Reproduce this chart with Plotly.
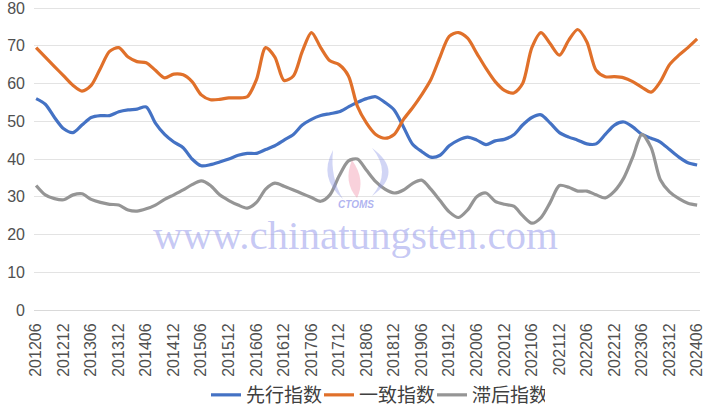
import pandas as pd
import plotly.graph_objects as go

# Months (every 2 months from 2012-06 to 2024-06)
months = pd.date_range("2012-06-01", "2024-06-01", freq="2MS")

# 先行指数 (leading index)
leading = [56, 54.5, 51, 48, 47, 49, 51, 51.5, 51.5, 52.5, 53, 53.2, 53.8,
           49.5, 46.5, 44.5, 43, 40, 38.2, 38.5, 39.2, 40, 41, 41.5, 41.5,
           42.5, 43.5, 45, 46.5, 49, 50.5, 51.5, 52, 52.5, 53.8, 55, 56, 56.5,
           55, 53, 48.5, 44, 42, 40.5, 41, 43.5, 45, 45.8, 45, 43.8, 44.8, 45.2,
           46.4, 49, 51, 51.7, 49.5, 47, 45.8, 45, 44, 44, 46.5, 49, 49.8, 48.5,
           46.5, 45.5, 44.5, 42.5, 40.5, 39, 38.4]

# 一致指数 (coincident index)
coincident = [69.5, 67, 64.5, 62, 59.5, 58, 59.5, 64, 68.5, 69.5, 67, 65.8, 65.5,
              63.5, 61.5, 62.5, 62.3, 60.5, 57, 55.7, 55.8, 56.2, 56.2, 56.5, 61,
              69.5, 67, 60.8, 62, 68.5, 73.5, 69.5, 66, 65, 62, 54, 49.5, 46.5,
              45.5, 46.5, 50.5, 53.5, 57, 61, 67, 72.5, 73.5, 72, 68, 64, 60.5,
              58.2, 57.5, 60, 69.5, 73.5, 70.5, 67.5, 71.5, 74.3, 71, 63.5, 61.8,
              61.8, 61.5, 60.5, 59, 57.7, 60.5, 65, 67.5, 69.5, 71.8]

# 滞后指数 (lagging index)
lagging = [33, 30.5, 29.5, 29.2, 30.5, 30.8, 29.3, 28.5, 28, 27.8, 26.5, 26.2, 26.8,
           27.8, 29.3, 30.5, 31.8, 33.2, 34.2, 33, 30.5, 29, 27.8, 27, 28.5, 32,
           33.6, 32.8, 31.8, 30.8, 29.8, 28.8, 30.5, 35.5, 39.5, 40, 37, 34, 32,
           31, 31.8, 33.5, 34.4, 32, 29, 26, 24.5, 26.5, 30, 31, 28.8, 28, 27.5,
           25, 23, 24.5, 28.5, 33, 32.5, 31.5, 31.5, 30.5, 29.7, 31.5, 35, 40.5,
           46.5, 43, 34.5, 31.3, 29.5, 28.3, 27.8]

series_names = ["先行指数", "一致指数", "滞后指数"]
series_colors = ["#4472C4", "#E0702A", "#959595"]

# Tick positions every 6 months
tick_dates = pd.date_range("2012-06-01", "2024-06-01", freq="6MS")
tick_labels = [d.strftime("%Y%m") for d in tick_dates]
y_ticks = [0, 10, 20, 30, 40, 50, 60, 70, 80]

fig = go.Figure()
for name, vals, col in zip(series_names, [leading, coincident, lagging], series_colors):
    fig.add_trace(go.Scatter(x=months, y=vals, name=name, mode="lines",
                             line=dict(color=col, width=3.2, shape="spline", smoothing=0.8)))

L, R, T, B = 34, 10, 4, 101
W, H = 710, 411
pw, ph = W - L - R, H - T - B
ytop = ph / 3.775  # keeps 80 at y=8 and 0 at y=310

def px(x):
    return (x - L) / pw

def py(y):
    return (H - B - y) / ph

def blob(pts):
    # closed smooth path through quadratic segments (pixel coords -> paper)
    s = "M {} {}".format(px(pts[0][0]), py(pts[0][1]))
    for i in range(1, len(pts) - 1, 2):
        s += " Q {} {} {} {}".format(px(pts[i][0]), py(pts[i][1]),
                                     px(pts[i + 1][0]), py(pts[i + 1][1]))
    return s + " Z"

shapes = []
logo = [
    (blob([(333, 150), (318, 178), (343, 199), (330, 178), (333, 150)]),
     "rgba(140,150,230,0.40)"),
    (blob([(352, 160), (343, 182), (357, 198), (366, 180), (352, 160)]),
     "rgba(240,140,165,0.40)"),
    (blob([(372, 148), (405, 172), (372, 196), (392, 172), (372, 148)]),
     "rgba(140,150,230,0.40)"),
]
for p, c in logo:
    shapes.append(dict(type="path", xref="paper", yref="paper", path=p,
                       fillcolor=c, line=dict(width=0), layer="above"))

annotations = [
    dict(text="www.chinatungsten.com", xref="paper", yref="paper",
         x=px(355), y=py(235), xanchor="center", yanchor="middle", showarrow=False,
         font=dict(family="Liberation Serif, DejaVu Serif, serif", size=41,
                   color="rgba(150,155,235,0.55)")),
    dict(text="<b><i>CTOMS</i></b>", xref="paper", yref="paper",
         x=px(356), y=py(204), xanchor="center", yanchor="middle", showarrow=False,
         font=dict(family="Liberation Sans, Arial, sans-serif", size=10,
                   color="rgba(150,155,235,0.75)")),
]

fig.update_layout(
    width=W, height=H,
    margin=dict(l=L, r=R, t=T, b=B, autoexpand=False),
    paper_bgcolor="white", plot_bgcolor="white",
    font=dict(family="Liberation Sans, Arial, sans-serif", color="#505050"),
    showlegend=True,
    legend=dict(orientation="h", x=px(206), xanchor="left", y=py(395), yanchor="middle",
                font=dict(family="Noto Sans CJK SC", size=19, color="#404040"),
                itemwidth=30, entrywidth=68, entrywidthmode="pixels",
                tracegroupgap=0, bgcolor="rgba(0,0,0,0)"),
    shapes=shapes,
    annotations=annotations,
)
fig.update_xaxes(type="date", range=["2012-05-18", "2024-06-20"],
                 tickvals=tick_dates, ticktext=tick_labels, tickangle=-90,
                 tickfont=dict(size=16, color="#505050"),
                 showgrid=False, showline=True, linecolor="#d9d9d9", linewidth=1,
                 ticks="", zeroline=False, ticklabelstandoff=6,
                 ticklabeloverflow="allow", automargin=False)
fig.update_yaxes(range=[0, ytop], tickvals=y_ticks, tickfont=dict(size=16, color="#505050"),
                 showgrid=True, gridcolor="#e3e3e3", gridwidth=1,
                 zeroline=False, showline=False, ticks="", ticklabelstandoff=8,
                 ticklabeloverflow="allow", automargin=False)

# remove the browser's default page margin so the figure fills the window exactly
fig.write_html("out.html", config={"displayModeBar": False},
               post_script="document.body.style.margin='0';")
